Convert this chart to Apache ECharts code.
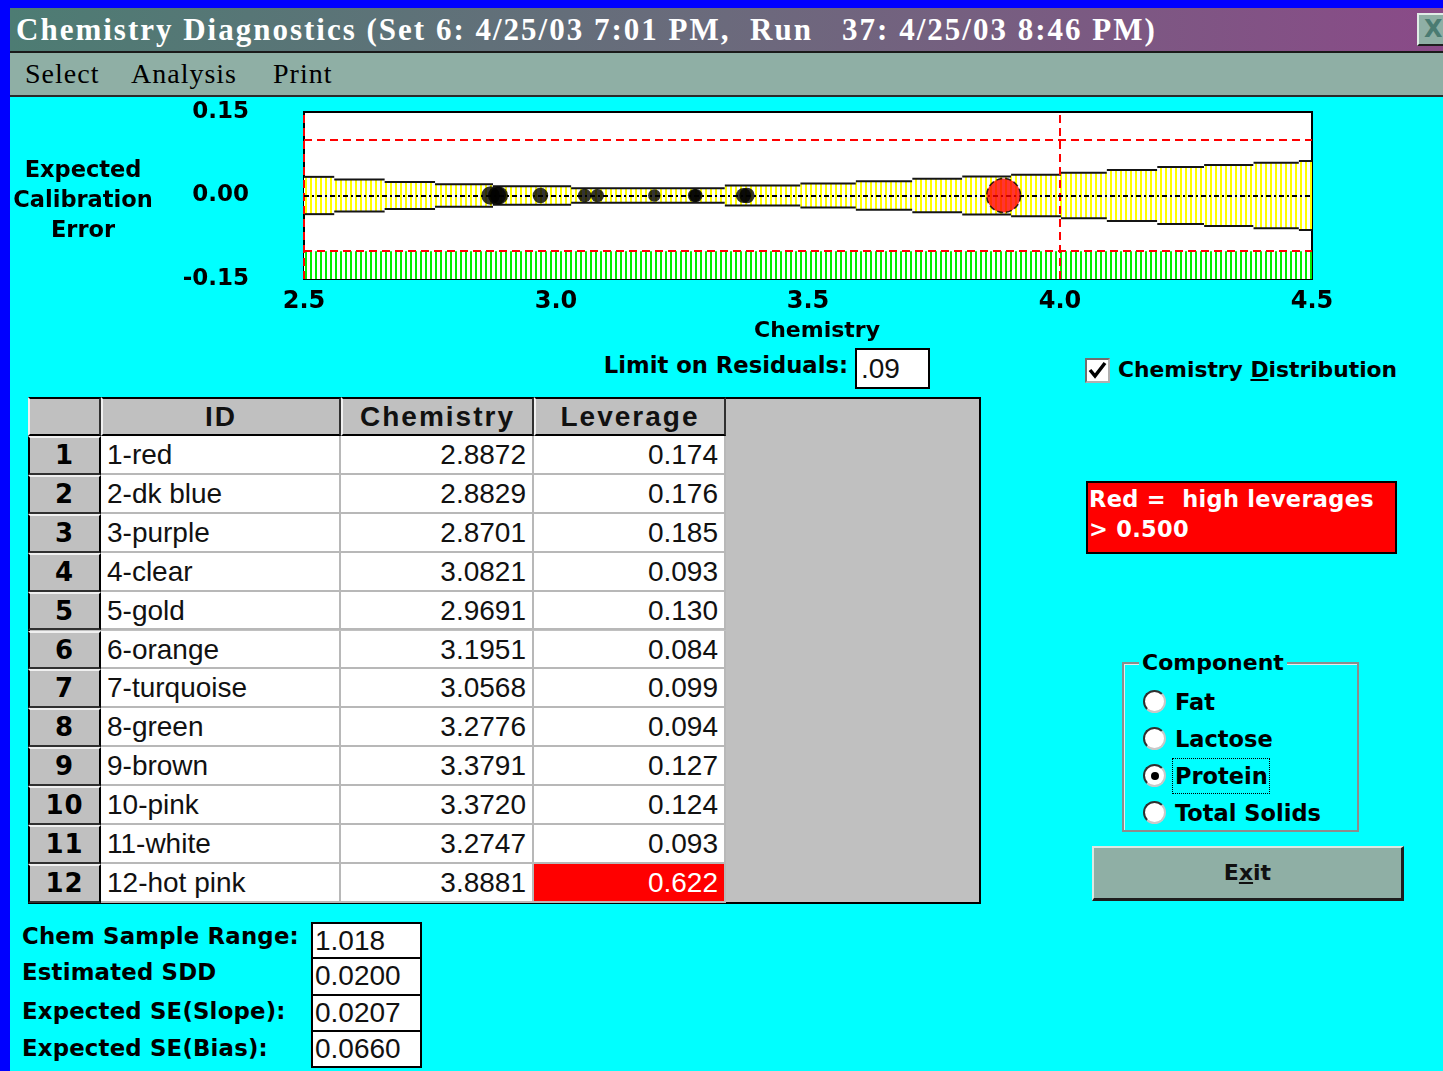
<!DOCTYPE html>
<html>
<head>
<meta charset="utf-8">
<title>Chemistry Diagnostics</title>
<script src="https://cdn.jsdelivr.net/npm/echarts@6/dist/echarts.min.js"></script>
<style>
    html, body { margin: 0; padding: 0; width: 1443px; height: 1071px; overflow: hidden; background: #0000ff; }
    .abs { position: absolute; box-sizing: border-box; }
    .bold { font-family: "DejaVu Sans", sans-serif; font-weight: bold; font-size: 22px; color: #000; white-space: nowrap; }
    .cell { font-family: "Liberation Sans", Arial, sans-serif; font-size: 28px; color: #111; white-space: nowrap; line-height: 38px; }
    .serif { font-family: "Liberation Serif", "Times New Roman", serif; white-space: nowrap; }
    .radio { width: 23px; height: 23px; border-radius: 50%; background: #fff; border: 2px solid; border-color: #303030 #c8c8c8 #c8c8c8 #303030; }
    .dot { width: 8px; height: 8px; border-radius: 50%; background: #000; position: absolute; left: 5.5px; top: 5.5px; }
    .box { background: #fff; border: 2px solid #000; }
</style>
</head>
<body>
<div class="abs" style="left:10px;top:97px;width:1433px;height:974px;background:#00ffff"></div>
<div id="chart" class="abs" style="left:0;top:0;width:1443px;height:345px"></div>

<!-- title bar and menu -->
<div class="abs serif" style="left:10px;top:8px;width:1433px;height:45px;background:linear-gradient(to right,#4d7c73,#6b6a7c 50%,#8a4a88);border-bottom:2px solid #1a1a1a;color:#fff;font-size:31px;font-weight:bold;letter-spacing:2px;line-height:43px;padding-left:6px">Chemistry Diagnostics (Set 6: 4/25/03 7:01 PM,&nbsp; Run &nbsp; 37: 4/25/03 8:46 PM)</div>
<div class="abs bold" style="left:1417px;top:13px;width:32px;height:33px;background:#8fafa5;border:2px solid;border-color:#e0ece6 #202020 #202020 #e0ece6;color:#4a7b72;font-size:24px;line-height:28px;padding-left:5px">X</div>
<div class="abs" style="left:10px;top:53px;width:1433px;height:44px;background:#8fafa5;border-bottom:2px solid #2a2a2a"></div>
<div class="abs serif" style="left:25px;top:57px;font-size:28px;letter-spacing:1px;line-height:34px">Select</div>
<div class="abs serif" style="left:131px;top:57px;font-size:28px;letter-spacing:1px;line-height:34px">Analysis</div>
<div class="abs serif" style="left:273px;top:57px;font-size:28px;letter-spacing:1px;line-height:34px">Print</div>

<!-- y axis title -->
<div class="abs bold" style="left:13px;top:154px;width:140px;text-align:center;line-height:30px;font-size:22.5px">Expected<br>Calibration<br>Error</div>

<!-- limit on residuals -->
<div class="abs bold" style="left:548px;top:350px;width:300px;text-align:right;line-height:30px;font-size:22.7px">Limit on Residuals:</div>
<div class="abs box cell" style="left:855px;top:348px;width:75px;height:41px;padding-left:4px">.09</div>

<!-- chemistry distribution checkbox -->
<div class="abs" style="left:1085px;top:358px;width:25px;height:25px;background:#fff;border:2px solid;border-color:#707070 #b0b0b0 #b0b0b0 #707070">
    <svg width="21" height="21" style="position:absolute;left:0;top:0"><path d="M3 10 L8 16 L18 3" stroke="#000" stroke-width="3.5" fill="none"/></svg>
</div>
<div class="abs bold" style="left:1118px;top:355px;line-height:30px;font-size:21.8px">Chemistry <u>D</u>istribution</div>

<!-- red legend -->
<div class="abs bold" style="left:1086px;top:481px;width:311px;height:73px;background:#ff0000;border:2px solid #000;color:#fff;line-height:30px;padding:1px 0 0 1px;font-size:22.5px;letter-spacing:0.3px">Red =&nbsp; high leverages<br>&gt; 0.500</div>

<!-- component group -->
<div class="abs" style="left:1122px;top:662px;width:237px;height:170px;border:2px solid #8c8c8c;box-shadow:inset 1px 1px 0 #e8e8e8"></div>
<div class="abs bold" style="left:1139px;top:648px;background:#00ffff;padding:0 3px;line-height:30px">Component</div>
<div id="radios"></div>
<div class="abs" style="left:1172px;top:758px;width:98px;height:36px;border:1.5px dotted #000"></div>

<!-- exit -->
<div class="abs bold" style="left:1092px;top:846px;width:312px;height:55px;background:#8fafa5;border:2px solid;border-color:#dce8e2 #1e1e1e #1e1e1e #dce8e2;border-width:2px 3px 3px 2px;text-align:center;line-height:50px;color:#111">E<u>x</u>it</div>

<div id="table"></div>
<div id="stats"></div>

<script>
// ---- data ----
const ids = ['1-red', '2-dk blue', '3-purple', '4-clear', '5-gold', '6-orange', '7-turquoise', '8-green', '9-brown', '10-pink', '11-white', '12-hot pink'];
const chemistry = [2.8872, 2.8829, 2.8701, 3.0821, 2.9691, 3.1951, 3.0568, 3.2776, 3.3791, 3.3720, 3.2747, 3.8881];
const leverage = [0.174, 0.176, 0.185, 0.093, 0.130, 0.084, 0.099, 0.094, 0.127, 0.124, 0.093, 0.622];
const leverageLimit = 0.5;
const residualLimit = 0.1;      // red dashed lines
const chemLimit = [2.5, 4.0];   // red dashed verticals
const distZone = [-0.15, -0.1]; // green chemistry distribution strip
// expected calibration error band (stepped): start of each step and half width
const bandStart = [2.50, 2.56, 2.66, 2.76, 2.875, 3.03, 3.335, 3.485, 3.595, 3.707, 3.806, 3.903, 4.002, 4.093, 4.193, 4.286, 4.384, 4.474];
const bandHalf = [0.0335, 0.0287, 0.0242, 0.0203, 0.0165, 0.013, 0.018, 0.0215, 0.0257, 0.030, 0.034, 0.0373, 0.041, 0.046, 0.051, 0.0547, 0.0588, 0.062];
const bandEnd = 4.5;
const xTicks = [2.5, 4.5, 0.5];      // min, max, interval
const yTicks = [-0.15, 0.15, 0.15];
const statLabels = ['Chem Sample Range:', 'Estimated SDD', 'Expected SE(Slope):', 'Expected SE(Bias):'];
const statValues = ['1.018', '0.0200', '0.0207', '0.0660'];
const components = ['Fat', 'Lactose', 'Protein', 'Total Solids'];
const selectedComponent = 'Protein';

// ---- stripe patterns ----
function stripes(color, w, lineW) {
    const c = document.createElement('canvas');
    c.width = w; c.height = 8;
    const ctx = c.getContext('2d');
    ctx.fillStyle = '#fff';
    ctx.fillRect(0, 0, w, 8);
    ctx.fillStyle = color;
    ctx.fillRect(0, 0, lineW, 8);
    return { image: c, repeat: 'repeat' };
}
const yellowPat = stripes('#ffff00', 5, 2);
const greenPat = stripes('#00ee00', 5, 2);

const myChart = echarts.init(document.getElementById('chart'));
const boldFont = { fontFamily: 'DejaVu Sans', fontWeight: 'bold', color: '#000' };

const bandData = bandStart.map(function (s, i) {
    return [s, i < bandStart.length - 1 ? bandStart[i + 1] : bandEnd, bandHalf[i]];
});
const pointData = chemistry.map(function (c, i) {
    const high = leverage[i] > leverageLimit;
    return {
        value: [c, 0, leverage[i]],
        itemStyle: high ? { color: '#ff0000', borderColor: '#000', borderWidth: 1.5, borderType: 'dashed' } : { color: '#000' }
    };
});
const dash = { color: '#ff0000', width: 2, type: [8, 5] };

const option = {
    animation: false,
    grid: { left: 304, top: 112, width: 1008, height: 167, show: true, backgroundColor: '#fff', borderColor: '#000', borderWidth: 2 },
    xAxis: {
        type: 'value', min: xTicks[0], max: xTicks[1], interval: xTicks[2],
        name: 'Chemistry', nameLocation: 'middle', nameGap: 41,
        nameTextStyle: Object.assign({ fontSize: 22, padding: [0, 0, 0, 18] }, boldFont),
        axisLine: { show: false }, axisTick: { show: false }, splitLine: { show: false },
        axisLabel: Object.assign({ margin: 11, fontSize: 24, formatter: function (v) { return v.toFixed(1); } }, boldFont)
    },
    yAxis: {
        type: 'value', min: yTicks[0], max: yTicks[1], interval: yTicks[2],
        axisLine: { show: false }, axisTick: { show: false }, splitLine: { show: false },
        axisLabel: Object.assign({ margin: 55, fontSize: 23, formatter: function (v) { return Math.abs(v) < 1e-9 ? '0.00' : v.toFixed(2); } }, boldFont)
    },
    series: [
        {
            type: 'custom',
            z: 2,
            clip: true,
            encode: { x: [0, 1], y: 2 },
            data: bandData,
            renderItem: function (params, api) {
                const tl = api.coord([api.value(0), api.value(2)]);
                const br = api.coord([api.value(1), -api.value(2)]);
                return {
                    type: 'group',
                    children: [
                        { type: 'rect', shape: { x: tl[0], y: tl[1], width: br[0] - tl[0], height: br[1] - tl[1] }, style: { fill: yellowPat } },
                        { type: 'line', shape: { x1: tl[0], y1: tl[1], x2: br[0], y2: tl[1] }, style: { stroke: '#151515', lineWidth: 2 } },
                        { type: 'line', shape: { x1: tl[0], y1: br[1], x2: br[0], y2: br[1] }, style: { stroke: '#151515', lineWidth: 2 } }
                    ]
                };
            },
            markArea: {
                silent: true,
                itemStyle: { color: greenPat },
                data: [[{ yAxis: distZone[0] }, { yAxis: distZone[1] }]]
            },
            markLine: {
                silent: true, symbol: 'none', label: { show: false },
                lineStyle: dash,
                data: [
                    { yAxis: residualLimit }, { yAxis: -residualLimit },
                    { xAxis: chemLimit[0] }, { xAxis: chemLimit[1] },
                    { yAxis: 0, lineStyle: { color: '#000', width: 2, type: [5, 3, 2, 3] } }
                ]
            }
        },
        {
            type: 'scatter',
            z: 5,
            symbolSize: function (v) { return 43 * Math.sqrt(v[2]); },
            data: pointData
        }
    ]
};
myChart.setOption(option);

// ---- leverage table ----
(function () {
    const colX = [28, 101, 341, 534, 726];
    const top = 397, headH = 39, rowH = 38.9;
    let html = '<div class="abs" style="left:28px;top:397px;width:953px;height:507px;background:#c0c0c0;border:2px solid #000"></div>';
    const heads = ['', 'ID', 'Chemistry', 'Leverage'];
    heads.forEach(function (h, c) {
        html += '<div class="abs cell" style="left:' + colX[c] + 'px;top:' + top + 'px;width:' + (colX[c + 1] - colX[c]) + 'px;height:' + headH +
            'px;background:#c0c0c0;border-left:2px solid #f0f0f0;border-right:2px solid #303030;border-bottom:2px solid #000;border-top:2px solid #000;text-align:center;line-height:36px;letter-spacing:2px;font-weight:bold">' + h + '</div>';
    });
    ids.forEach(function (id, r) {
        const y = top + headH + r * rowH;
        const high = leverage[r] > leverageLimit;
        html += '<div class="abs bold" style="left:28px;top:' + y + 'px;width:73px;height:' + rowH + 'px;background:#c0c0c0;border:2px solid;border-color:#f0f0f0 #000 #303030 #000;text-align:center;line-height:34px;font-size:26px;letter-spacing:1px">' + (r + 1) + '</div>';
        html += '<div class="abs cell" style="left:101px;top:' + y + 'px;width:240px;height:' + rowH + 'px;background:#fff;border-right:2px solid #b8b8b8;border-bottom:2px solid #b8b8b8;padding-left:6px">' + id + '</div>';
        html += '<div class="abs cell" style="left:341px;top:' + y + 'px;width:193px;height:' + rowH + 'px;background:#fff;border-right:2px solid #b8b8b8;border-bottom:2px solid #b8b8b8;text-align:right;padding-right:6px">' + chemistry[r].toFixed(4) + '</div>';
        html += '<div class="abs cell" style="left:534px;top:' + y + 'px;width:192px;height:' + rowH + 'px;background:' + (high ? '#ff0000' : '#fff') + ';color:' + (high ? '#fff' : '#111') +
            ';border-right:2px solid #b8b8b8;border-bottom:2px solid #b8b8b8;text-align:right;padding-right:6px">' + leverage[r].toFixed(3) + '</div>';
    });
    document.getElementById('table').innerHTML = html;

    // stats
    const boxY = [922, 957, 994, 1030];
    const labelY = [921, 957, 996, 1033];
    let s = '';
    statLabels.forEach(function (l, i) {
        s += '<div class="abs bold" style="left:22px;top:' + labelY[i] + 'px;line-height:30px;font-size:22.8px;letter-spacing:0.2px">' + l + '</div>';
        s += '<div class="abs box cell" style="left:311px;top:' + boxY[i] + 'px;width:111px;height:' + (i < 3 ? boxY[i + 1] - boxY[i] + 2 : 38) + 'px;padding-left:2px;line-height:34px">' + statValues[i] + '</div>';
    });
    document.getElementById('stats').innerHTML = s;

    // radios
    let rd = '';
    components.forEach(function (c, i) {
        const y = 690 + i * 37;
        rd += '<div class="abs radio" style="left:1143px;top:' + y + 'px">' + (c === selectedComponent ? '<div class="dot"></div>' : '') + '</div>';
        rd += '<div class="abs bold" style="left:1175px;top:' + (y - 3) + 'px;line-height:30px;font-size:22.5px">' + c + '</div>';
    });
    document.getElementById('radios').innerHTML = rd;
})();
</script>
</body>
</html>
